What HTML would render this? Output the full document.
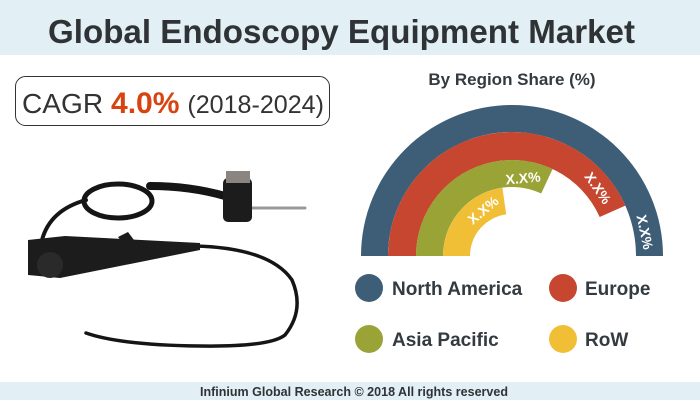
<!DOCTYPE html>
<html><head><meta charset="utf-8"><style>
html,body{margin:0;padding:0;background:#fff}
svg{display:block}
</style></head><body>
<svg width="700" height="400" viewBox="0 0 700 400" xmlns="http://www.w3.org/2000/svg" font-family="Liberation Sans, sans-serif">
<rect x="0" y="0" width="700" height="55" fill="#e2eff5"/>
<text x="48" y="43" font-size="33" font-weight="bold" fill="#2f3336" textLength="587" lengthAdjust="spacingAndGlyphs">Global Endoscopy Equipment Market</text>
<rect x="0" y="382" width="700" height="18" fill="#e2eff5"/>
<text x="200" y="396" font-size="13" font-weight="bold" fill="#2f3336" textLength="308" lengthAdjust="spacingAndGlyphs">Infinium Global Research © 2018 All rights reserved</text>

<rect x="15.5" y="76.5" width="314" height="49" rx="10" fill="#fff" stroke="#333" stroke-width="1"/>
<text x="22" y="113" font-size="28" fill="#333" textLength="302" lengthAdjust="spacingAndGlyphs">CAGR <tspan font-weight="bold" fill="#d84310" font-size="30">4.0%</tspan> <tspan font-size="25">(2018-2024)</tspan></text>

<text x="512" y="85" font-size="17" font-weight="bold" fill="#333a40" text-anchor="middle">By Region Share (%)</text>

<g>
<path d="M361 256 A151 151 0 0 1 663 256 L636 256 A124 124 0 0 0 388 256 Z" fill="#3e5e78"/>
<path d="M388 256 A124 124 0 0 1 625.3 205.6 L599.7 217 A96 96 0 0 0 416 256 Z" fill="#c6462f"/>
<path d="M416 256 A96 96 0 0 1 552.6 169 L541.2 193.5 A69 69 0 0 0 443 256 Z" fill="#9aa336"/>
<path d="M443 256 A69 69 0 0 1 502.4 187.7 L506.2 214.4 A42 42 0 0 0 470 256 Z" fill="#f0bf36"/>
<g fill="#fff" font-size="14" font-weight="bold" text-anchor="middle">
<text transform="translate(645,232) rotate(78)" dy="5">X.X%</text>
<text transform="translate(598,188) rotate(55)" dy="5">X.X%</text>
<text transform="translate(523,178) rotate(-5)" dy="5">X.X%</text>
<text transform="translate(483,210) rotate(-40)" dy="5">X.X%</text>
</g>
</g>

<g font-size="19" font-weight="bold" fill="#333a40">
<circle cx="369" cy="288" r="14" fill="#3e5e78"/><text x="392" y="295">North America</text>
<circle cx="563" cy="288" r="14" fill="#c6462f"/><text x="585" y="295">Europe</text>
<circle cx="369" cy="339" r="14" fill="#9aa336"/><text x="392" y="346">Asia Pacific</text>
<circle cx="563" cy="339" r="14" fill="#f0bf36"/><text x="585" y="346">RoW</text>
</g>

<g fill="none" stroke="#151515" stroke-linecap="round">
<ellipse cx="118" cy="201" rx="34" ry="17" stroke-width="5"/>
<path d="M150 186 Q190 186 225 196" stroke-width="8"/>
<path d="M86 200 Q50 210 42 240" stroke-width="4"/>
<path d="M195 246 Q270 248 292 280 Q305 310 285 335 Q270 347 200 346 Q120 345 86 333" stroke-width="3.5"/>
<path d="M252 208 L305 208" stroke="#999" stroke-width="3"/>
</g>
<g fill="#1c1c1c">
<rect x="223" y="178" width="29" height="44" rx="5"/>
<rect x="226" y="171" width="24" height="12" fill="#8a8580"/>
<path d="M28 240 L65 236 L200 243 L200 250 L90 272 L60 278 L28 275 Z"/>
<circle cx="50" cy="265" r="13" fill="#2a2a2a"/>
<path d="M118 237 L128 232 L140 248 L130 252 Z"/>
</g>
</svg>
</body></html>
